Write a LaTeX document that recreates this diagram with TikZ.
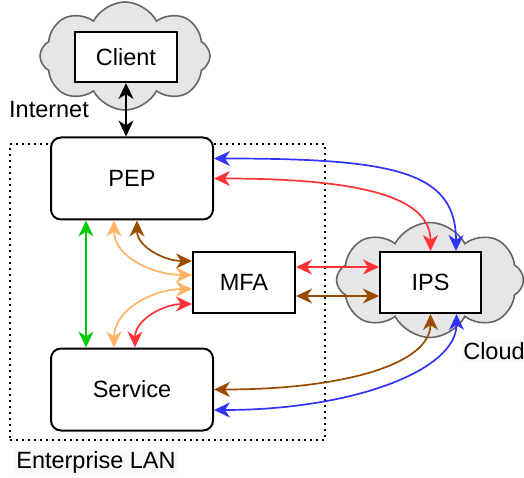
\documentclass[tikz,border=0pt]{standalone}
\usepackage{fontspec}
\setmainfont{Liberation Sans}
\usetikzlibrary{arrows.meta,shapes.symbols}
\definecolor{cloudgray}{HTML}{E6E6E6}
\definecolor{cloudline}{HTML}{666666}
\definecolor{linkblue}{HTML}{3333FF}
\definecolor{linkred}{HTML}{FF3333}
\definecolor{linkbrown}{HTML}{994C00}
\definecolor{linkorange}{HTML}{FFB366}
\definecolor{linkgreen}{HTML}{00CC00}
\definecolor{labelbg}{HTML}{F8F9FA}
\begin{document}
\begin{tikzpicture}[x=1pt,y=1pt,
    font=\fontsize{23.5}{28}\selectfont,
    >={Stealth[length=16pt,width=15pt,inset=5pt]},
    puff/.style={cloud, cloud puffs=8, cloud puff arc=125, cloud ignores aspect,
      draw=cloudline, fill=cloudgray, line width=1.6pt, inner sep=0pt},
    lanbox/.style={draw, line width=1.6pt, dash pattern=on 1.6pt off 4.4pt},
    box/.style={draw, line width=2pt, fill=white, inner sep=0pt},
    rbox/.style={box, rounded corners=10pt, minimum width=162pt, minimum height=82pt},
    link/.style={<->, line width=1.7pt}]
      \useasboundingbox (0,0) rectangle (524,-478);
      % clouds and LAN border
      \node[puff, minimum width=170pt, minimum height=108pt] (net) at (125,-56) {};
      \node[puff, minimum width=187pt, minimum height=115pt] (cloud) at (430,-280) {};
      \node[lanbox, minimum width=315pt, minimum height=296pt] (lan) at (167.5,-292) {};
      % components
      \node[box, minimum width=102pt, minimum height=50pt] (client) at (126,-57) {Client};
      \node[rbox] (pep) at (132,-178.5) {PEP};
      \node[rbox] (service) at (132,-389.5) {Service};
      \node[box, minimum width=102pt, minimum height=61pt] (mfa) at (244,-282.5) {MFA};
      \node[box, minimum width=101pt, minimum height=61pt] (ips) at (430.5,-282.5) {IPS};
      % zone labels
      \node (internet) at (49,-110) {Internet};
      \node[fill=labelbg, inner sep=2pt] (lanlabel) at (96,-462) {Enterprise LAN};
      \node[fill=labelbg, inner sep=2pt] (cloudlabel) at (494,-351) {Cloud};
      \begin{scope}[link]
        \draw[black] (client.south) -- (client.south |- pep.north);
        \draw[linkgreen] ([xshift=-46pt]pep.south) -- ([xshift=-46pt]service.north);
        \draw[linkbrown] ([xshift=5pt]pep.south) to[out=-90,in=180] ([yshift=21.5pt]mfa.west);
        \draw[linkorange] ([xshift=-18pt]pep.south) to[out=-90,in=180] ([yshift=7.5pt]mfa.west);
        \draw[linkorange] ([xshift=-18pt]service.north) to[out=90,in=180] ([yshift=-6.5pt]mfa.west);
        \draw[linkred] ([xshift=3pt]service.north) to[out=90,in=180] ([yshift=-21.5pt]mfa.west);
        \draw[linkred] ([yshift=15.5pt]mfa.east) -- ([yshift=15.5pt]ips.west);
        \draw[linkbrown] ([yshift=-13.5pt]mfa.east) -- ([yshift=-13.5pt]ips.west);
        \draw[linkblue] ([yshift=20pt]pep.east) .. controls +(180,0) and +(0,80) .. ([xshift=25.5pt]ips.north);
        \draw[linkred] (pep.east) .. controls +(160,0) and +(0,50) .. (ips.north);
        \draw[linkbrown] (ips.south) .. controls +(0,-50) and +(130,0) .. (service.east);
        \draw[linkblue] ([xshift=26pt]ips.south) .. controls +(0,-57) and +(137,0) .. ([yshift=-20.5pt]service.east);
      \end{scope}
\end{tikzpicture}
\end{document}
